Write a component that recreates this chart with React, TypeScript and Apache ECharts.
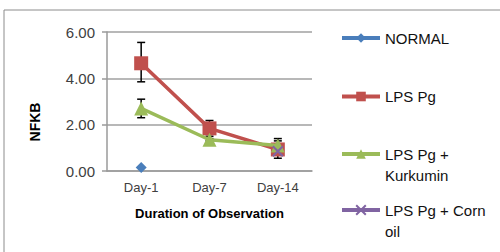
import React, { useEffect, useRef } from "react";
import * as echarts from "echarts";

const categories = ["Day-1", "Day-7", "Day-14"];
const yTicks = [0, 2, 4, 6];
const normalValues = [0.15, null, null];
const lpsValues = [4.65, 1.84, 0.93];
const kurkuminValues = [2.7, 1.35, 1.1];
const cornOilValues = [null, null, 0.85];
const lpsErrLow = [3.85, 1.5, 0.55];
const lpsErrHigh = [5.55, 2.18, 1.3];
const kurErrLow = [2.3, 1.3, 0.8];
const kurErrHigh = [3.1, 1.4, 1.4];

const FONT = "Liberation Sans";

function errorData(lo: number[], hi: number[]) {
  return categories.map((_, i) => [i, lo[i], hi[i]]);
}

function renderError(params: any, api: any) {
  const x = api.value(0);
  const lo = api.coord([x, api.value(1)]);
  const hi = api.coord([x, api.value(2)]);
  const cap = 4;
  const style = { stroke: "#000", lineWidth: 1.5 };
  return {
    type: "group",
    children: [
      { type: "line", shape: { x1: lo[0], y1: lo[1], x2: hi[0], y2: hi[1] }, style },
      { type: "line", shape: { x1: hi[0] - cap, y1: hi[1], x2: hi[0] + cap, y2: hi[1] }, style },
      { type: "line", shape: { x1: lo[0] - cap, y1: lo[1], x2: lo[0] + cap, y2: lo[1] }, style },
    ],
  };
}

const xSymbol = "path://M0,0L10,10M10,0L0,10";

export default function App() {
  const ref = useRef<HTMLDivElement>(null);
  useEffect(() => {
    document.body.style.margin = "0";
    const chart = echarts.init(ref.current!, null, { renderer: "svg" });
    const legendBase = {
      orient: "vertical",
      left: 340,
      padding: 0,
      itemWidth: 38,
      itemHeight: 12,
      itemGap: 0,
      lineStyle: { width: 4 },
      textStyle: { fontFamily: FONT, fontSize: 15, color: "#111", lineHeight: 21 },
    };
    chart.setOption({
      animation: false,
      backgroundColor: "#fff",
      textStyle: { fontFamily: FONT },
      grid: { left: 107, right: 188, top: 32, bottom: 81 },
      graphic: [
        {
          type: "rect",
          shape: { x: 4, y: 10, width: 600, height: 400 },
          style: { fill: "none", stroke: "#8c8c8c", lineWidth: 1 },
          silent: true,
          z: -1,
        },
        {
          type: "text",
          x: 35,
          y: 122,
          rotation: Math.PI / 2,
          style: {
            text: "NFKB",
            font: `bold 14px ${FONT}`,
            fill: "#000",
            align: "center",
            verticalAlign: "middle",
          },
        },
      ],
      legend: [
        { ...legendBase, top: 27.5, data: ["NORMAL"] },
        { ...legendBase, top: 86, data: ["LPS Pg"] },
        {
          ...legendBase,
          top: 122.5,
          data: ["LPS Pg + Kurkumin"],
          formatter: () => "\nLPS Pg +\nKurkumin",
        },
        {
          ...legendBase,
          top: 178.5,
          data: ["LPS Pg + Corn oil"],
          formatter: () => "\nLPS Pg + Corn\noil",
        },
      ],
      xAxis: {
        type: "category",
        data: categories,
        boundaryGap: true,
        name: "Duration of Observation",
        nameLocation: "middle",
        nameGap: 36,
        nameTextStyle: { fontFamily: FONT, fontSize: 13, fontWeight: "bold", color: "#000" },
        axisLine: { lineStyle: { color: "#9a9a9a", width: 1.5 } },
        axisTick: { show: false },
        axisLabel: { fontFamily: FONT, fontSize: 13, color: "#404040", margin: 10 },
      },
      yAxis: {
        type: "value",
        min: 0,
        max: 6,
        interval: 2,
        axisLine: { show: true, lineStyle: { color: "#9a9a9a", width: 1.5 } },
        axisTick: { show: true, length: 5, lineStyle: { color: "#9a9a9a", width: 1.5 } },
        splitLine: { lineStyle: { color: "#a0a0a0", width: 1.5 } },
        axisLabel: {
          fontFamily: FONT,
          fontSize: 15,
          color: "#404040",
          margin: 12,
          formatter: (v: number) => (yTicks.includes(v) ? v.toFixed(2) : ""),
        },
      },
      series: [
        {
          name: "NORMAL",
          type: "line",
          data: normalValues,
          symbol: "diamond",
          symbolSize: 11,
          color: "#4a7ebb",
          lineStyle: { width: 3.5, color: "#4a7ebb" },
          itemStyle: { color: "#4a7ebb" },
          z: 3,
        },
        {
          name: "LPS Pg",
          type: "line",
          data: lpsValues,
          symbol: "rect",
          symbolSize: 14,
          color: "#c0504d",
          lineStyle: { width: 3.5, color: "#c0504d" },
          itemStyle: { color: "#c0504d" },
          z: 3,
        },
        {
          name: "LPS Pg + Kurkumin",
          type: "line",
          data: kurkuminValues,
          symbol: "triangle",
          symbolSize: 14,
          color: "#9bbb59",
          lineStyle: { width: 3.5, color: "#9bbb59" },
          itemStyle: { color: "#9bbb59" },
          z: 4,
        },
        {
          name: "LPS Pg + Corn oil",
          type: "line",
          data: cornOilValues,
          symbol: xSymbol,
          symbolSize: 10,
          color: "#8064a2",
          lineStyle: { width: 3.5, color: "#8064a2" },
          itemStyle: { color: "#8064a2", borderColor: "#8064a2", borderWidth: 2 },
          z: 5,
        },
        {
          name: "errLps",
          type: "custom",
          renderItem: renderError,
          data: errorData(lpsErrLow, lpsErrHigh),
          encode: { x: 0, y: [1, 2] },
          z: 1,
          silent: true,
        },
        {
          name: "errKur",
          type: "custom",
          renderItem: renderError,
          data: errorData(kurErrLow, kurErrHigh),
          encode: { x: 0, y: [1, 2] },
          z: 1,
          silent: true,
        },
      ],
    });
    return () => chart.dispose();
  }, []);
  return <div ref={ref} style={{ width: 500, height: 252 }} />;
}
